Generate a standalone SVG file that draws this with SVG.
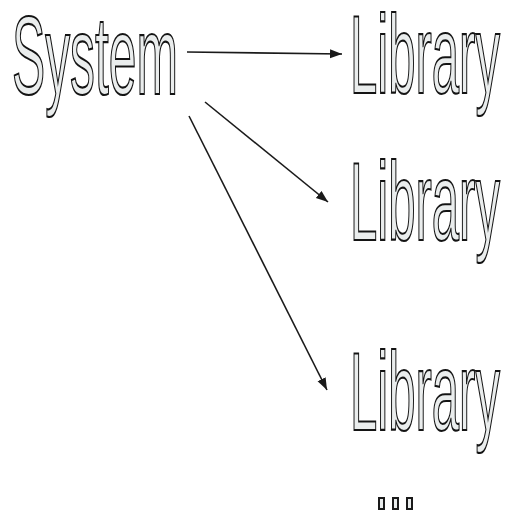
<svg xmlns="http://www.w3.org/2000/svg" width="508" height="514" viewBox="0 0 508 514">
<style>
.t{font-family:"Liberation Sans",Arial,sans-serif;font-size:112px;fill:#eaeded;stroke:#141414;stroke-width:2.2}
.c{stroke:#1a1a1a;stroke-width:1.6;fill:none;marker-end:url(#ah)}
.d{fill:#eaeded;stroke:#1a1a1a;stroke-width:2}
</style>
<defs>
<marker id="ah" markerUnits="userSpaceOnUse" markerWidth="13" markerHeight="10" refX="12" refY="4.5" orient="auto">
<path d="M0,0 L12,4.5 L0,9 z" fill="#1a1a1a"/>
</marker>
</defs>
<rect width="508" height="514" fill="#fff"/>
<g id="system"><text class="t" x="12" y="94" textLength="166" lengthAdjust="spacingAndGlyphs">System</text></g>
<g id="library1"><text class="t" x="350" y="93" textLength="150" lengthAdjust="spacingAndGlyphs">Library</text></g>
<g id="library2"><text class="t" x="350" y="240" textLength="150" lengthAdjust="spacingAndGlyphs">Library</text></g>
<g id="library3"><text class="t" x="350" y="430" textLength="150" lengthAdjust="spacingAndGlyphs">Library</text></g>
<g id="connectors">
<line class="c" x1="187" y1="52" x2="342" y2="54"/>
<line class="c" x1="205" y1="102" x2="328" y2="202"/>
<line class="c" x1="189" y1="116" x2="327" y2="390"/>
</g>
<g id="more">
<rect class="d" x="379" y="498" width="5" height="11"/>
<rect class="d" x="393" y="498" width="5" height="11"/>
<rect class="d" x="407" y="498" width="5" height="11"/>
</g>
</svg>
